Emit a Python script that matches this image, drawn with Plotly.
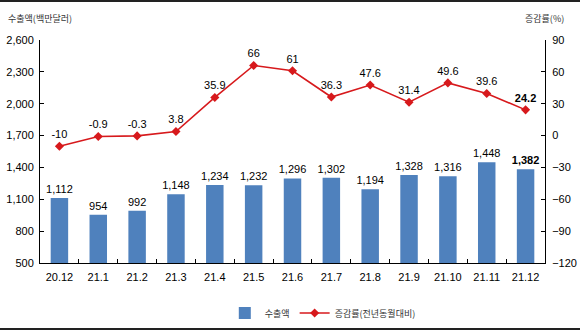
import plotly.graph_objects as go

categories = ["20.12", "21.1", "21.2", "21.3", "21.4", "21.5", "21.6", "21.7", "21.8", "21.9", "21.10", "21.11", "21.12"]
exports = [1112, 954, 992, 1148, 1234, 1232, 1296, 1302, 1194, 1328, 1316, 1448, 1382]
growth = [-10, -0.9, -0.3, 3.8, 35.9, 66, 61, 36.3, 47.6, 31.4, 49.6, 39.6, 24.2]
left_ticks = [500, 800, 1100, 1400, 1700, 2000, 2300, 2600]
right_ticks = [-120, -90, -60, -30, 0, 30, 60, 90]

bar_text = [f"{v:,}" for v in exports]
bar_text[-1] = f"<b>{bar_text[-1]}</b>"
line_text = [f"{v:g}" for v in growth]
line_text[-1] = f"<b>{line_text[-1]}</b>"

W, H = 580, 330
ML, MR, MT, MB = 40, 35, 40, 67
pw, ph = W - ML - MR, H - MT - MB

font = "Liberation Sans, Arial, Noto Sans CJK KR, sans-serif"
kfont = "Noto Sans CJK KR, sans-serif"

fig = go.Figure()
fig.add_trace(go.Bar(
    x=categories, y=exports, name="수출액",
    marker=dict(color="#4F81BD", line=dict(width=0)),
    width=0.45,
    text=bar_text, textposition="outside", cliponaxis=False,
    constraintext="none",
    textfont=dict(size=11, color="#000000", family=font),
))
fig.add_trace(go.Scatter(
    x=categories, y=growth, name="증감률(전년동월대비)", yaxis="y2",
    mode="lines+markers+text",
    line=dict(color="#D7191C", width=1.6),
    marker=dict(symbol="diamond", size=7, color="#D7191C"),
    text=line_text, textposition="top center", cliponaxis=False,
    textfont=dict(size=11, color="#000000", family=font),
))

fig.update_layout(
    width=W, height=H,
    margin=dict(l=ML, r=MR, t=MT, b=MB, autoexpand=False),
    paper_bgcolor="white", plot_bgcolor="white",
    showlegend=True,
    legend=dict(orientation="h", x=0.56, xanchor="center",
                y=(MT + ph - 313) / ph, yanchor="middle",
                font=dict(size=9, family=kfont, color="#333333"),
                itemwidth=30, tracegroupgap=0),
    bargap=0.55,
    xaxis=dict(
        type="category", showline=True, linecolor="#000000", linewidth=1,
        ticks="inside", ticklen=4, tickson="boundaries", tickcolor="#000000",
        tickfont=dict(size=11, family=font, color="#000000"),
        ticklabelstandoff=4,
        showgrid=False, range=[-0.5, 12.5],
    ),
    yaxis=dict(
        range=[500, 2600], tickvals=left_ticks,
        ticktext=[f"{v:,}" for v in left_ticks],
        showline=True, linecolor="#000000", linewidth=1,
        ticks="inside", ticklen=4, tickcolor="#000000",
        tickfont=dict(size=11, family=font, color="#000000"),
        ticklabelstandoff=3,
        showgrid=False, zeroline=False,
    ),
    yaxis2=dict(
        range=[-120, 90], tickvals=right_ticks, overlaying="y", side="right",
        showline=True, linecolor="#000000", linewidth=1,
        ticks="inside", ticklen=4, tickcolor="#000000",
        tickfont=dict(size=11, family=font, color="#000000"),
        ticklabelstandoff=4,
        showgrid=False, zeroline=False,
    ),
    annotations=[
        dict(text="수출액(백만달러)", xref="paper", yref="paper",
             x=-34 / pw, y=1 + 21 / ph, xanchor="left", yanchor="middle",
             showarrow=False, font=dict(size=9, family=kfont, color="#333333")),
        dict(text="증감률(%)", xref="paper", yref="paper",
             x=1 + 21 / pw, y=1 + 21 / ph, xanchor="right", yanchor="middle",
             showarrow=False, font=dict(size=9, family=kfont, color="#333333")),
    ],
    shapes=[
        dict(type="line", xref="paper", yref="paper",
             x0=-ML / pw, x1=1 + MR / pw, y0=(ph + MT - 1) / ph, y1=(ph + MT - 1) / ph,
             line=dict(color="#222222", width=2)),
        dict(type="line", xref="paper", yref="paper",
             x0=-ML / pw, x1=1 + MR / pw, y0=-(MB - 1) / ph, y1=-(MB - 1) / ph,
             line=dict(color="#222222", width=2)),
    ],
)

fig.write_html("out.html")
